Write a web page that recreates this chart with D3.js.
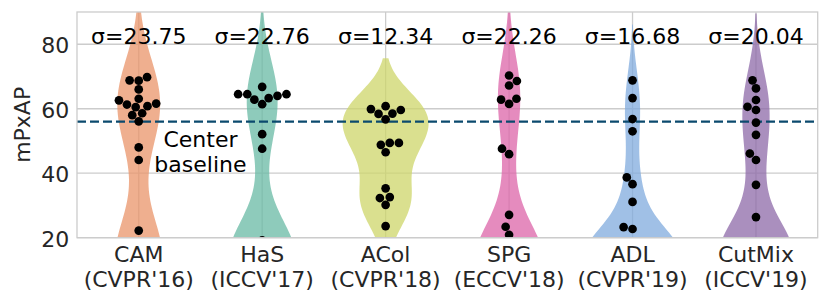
<!DOCTYPE html>
<html><head><meta charset="utf-8">
<script src="https://cdn.jsdelivr.net/npm/d3@7"></script>
<style>
body{margin:0;background:#fff}
svg{display:block}
text{font-family:"DejaVu Sans",sans-serif}
</style>
</head><body>
<svg id="c" width="830" height="304"></svg>
<script>
// ---------- data ----------
const methods = ["CAM", "HaS", "ACol", "SPG", "ADL", "CutMix"];
const venues = ["(CVPR'16)", "(ICCV'17)", "(CVPR'18)", "(ECCV'18)", "(CVPR'19)", "(ICCV'19)"];
const sigmaLabels = ["σ=23.75", "σ=22.76", "σ=12.34", "σ=22.26", "σ=16.68", "σ=20.04"];
const yTicks = [20, 40, 60, 80];
const centerBaseline = 56;

// mPxAP per hyperparameter trial (values below 20 fall outside the visible axis range)
const camScores = [68.8, 68.7, 69.8, 66.0, 62.6, 60.8, 60.5, 63.1, 61.3, 61.6, 58.0, 58.6, 56.1, 48.0, 44.1, 22.2,
  9.5, 10.5, 11, 11.5, 12, 12.5, 13, 13, 13.5, 14, 14.5, 15, 15.5, 16.5];
const hasScores = [64.5, 64.5, 62.8, 66.8, 61.4, 63.3, 64.0, 64.5, 52.1, 47.6,
  9.8, 10.3, 10.8, 11.3, 11.8, 12.1, 12.3, 12.5, 12.8, 13.1, 13.3, 13.5, 13.8, 14.3, 14.8, 15.3, 15.8, 16.3, 17.3, 19.2];
const acolScores = [59.9, 58.4, 56.7, 58.5, 59.6, 60.8, 48.8, 46.5, 49.4, 49.4, 35.3, 32.3, 32.6, 30.2, 23.6];
const spgScores = [68.6, 67.2, 70.3, 62.8, 61.5, 63.1, 47.6, 45.9, 27.1, 23.4, 20.9,
  7, 7.5, 8, 8.5, 9, 9.5, 10, 10, 10.5, 10.5, 11, 11, 11.5, 12, 12.5, 13, 13.5, 14, 15];
const adlScores = [68.8, 63.3, 56.8, 53.0, 38.7, 36.6, 31.1, 23.3, 22.7,
  8, 9, 9.5, 10, 10.5, 11, 11.5, 12, 12, 12.5, 13, 13.5, 14, 14, 14.5, 15, 15.5, 16, 16.5, 17, 18];
const cutmixScores = [68.8, 66.3, 62.7, 60.6, 59.6, 55.7, 51.9, 46.1, 44.1, 36.4, 26.4,
  10, 10.5, 11, 11.5, 12, 12.5, 13, 13.5, 14, 14, 14.5, 15, 15, 15.5, 16, 16.5, 17, 17.5, 18];
const scores = [camScores, hasScores, acolScores, spgScores, adlScores, cutmixScores];
const colors = ["#ea946a", "#68baa4", "#ced66a", "#dc64a8", "#80abde", "#8e6aa8"];

// ---------- layout ----------
const svg = d3.select("#c");
const plot = {left: 77, right: 817.7, top: 12, bottom: 237.7};
const x = d3.scaleBand().domain(methods).range([plot.left, plot.right]).padding(0);
const y = d3.scaleLinear().domain([20, 90]).range([plot.bottom, plot.top]);
const cx = m => x(m) + x.bandwidth() / 2;
const gridColor = "#cccccc", textColor = "#262626";

svg.append("defs").append("clipPath").attr("id", "clip")
  .append("rect").attr("x", plot.left).attr("y", plot.top)
  .attr("width", plot.right - plot.left).attr("height", plot.bottom - plot.top);

// grid
const grid = svg.append("g");
grid.selectAll("line.h").data(yTicks).join("line")
  .attr("x1", plot.left).attr("x2", plot.right)
  .attr("y1", d => y(d)).attr("y2", d => y(d))
  .attr("stroke", gridColor).attr("stroke-width", 1.3);
grid.selectAll("line.v").data(methods).join("line")
  .attr("x1", d => cx(d)).attr("x2", d => cx(d))
  .attr("y1", plot.top).attr("y2", plot.bottom)
  .attr("stroke", gridColor).attr("stroke-width", 1.3);

// ---------- violins (gaussian KDE, Scott bandwidth, cut = 2, area scaling) ----------
function kde(values) {
  const n = values.length;
  const bw = d3.deviation(values) * Math.pow(n, -1 / 5);
  const lo = d3.min(values) - 2 * bw, hi = d3.max(values) + 2 * bw;
  const norm = 1 / (bw * Math.sqrt(2 * Math.PI));
  return d3.range(100).map(i => {
    const v = lo + (hi - lo) * i / 99;
    return [v, norm * d3.mean(values, s => Math.exp(-0.5 * ((v - s) / bw) ** 2))];
  });
}
const dens = scores.map(kde);
const maxD = d3.max(dens, d => d3.max(d, p => p[1]));
const w = d3.scaleLinear().domain([0, maxD]).range([0, x.bandwidth() * 0.4]);

const gv = svg.append("g").attr("clip-path", "url(#clip)");
methods.forEach((m, i) => {
  const c = cx(m);
  gv.append("path").datum(dens[i])
    .attr("d", d3.area().x0(p => c - w(p[1])).x1(p => c + w(p[1])).y(p => y(p[0])))
    .attr("fill", colors[i]).attr("fill-opacity", 0.75);
});

// center baseline
svg.append("line")
  .attr("x1", plot.left).attr("x2", plot.right)
  .attr("y1", y(centerBaseline)).attr("y2", y(centerBaseline))
  .attr("stroke", "#0b4a6e").attr("stroke-width", 2.2).attr("stroke-dasharray", "9,4");

// ---------- swarm (beeswarm placement like seaborn) ----------
const dotR = 4.35, dia = 8.7;
function swarm(values, center) {
  const pts = values.slice().sort((a, b) => a - b).map(v => ({v, x: center, y: y(v)}));
  const placed = [];
  pts.forEach((p, k) => {
    if (k === 0) { placed.push(p); return; }
    const nb = [];
    for (let j = placed.length - 1; j >= 0; j--) {
      if (Math.abs(placed[j].y - p.y) < dia) nb.unshift(placed[j]); else break;
    }
    const cand = [center];
    let leftFirst = true;
    nb.forEach(q => {
      const dy = p.y - q.y;
      const dx = Math.sqrt(Math.max(dia * dia - dy * dy, 0)) * 1.05;
      if (leftFirst) cand.push(q.x - dx, q.x + dx); else cand.push(q.x + dx, q.x - dx);
      leftFirst = !leftFirst;
    });
    const order = cand.map((cxv, idx) => ({cxv, idx})).sort((a, b) => (Math.abs(a.cxv - center) - Math.abs(b.cxv - center)) || (a.idx - b.idx));
    let chosen = center;
    for (const o of order) {
      if (nb.every(q => (q.x - o.cxv) ** 2 + (q.y - p.y) ** 2 >= dia * dia)) { chosen = o.cxv; break; }
    }
    const lim = x.bandwidth() * 0.4;
    p.x = Math.max(center - lim, Math.min(center + lim, chosen));
    placed.push(p);
  });
  return placed;
}
const gp = svg.append("g").attr("clip-path", "url(#clip)");
methods.forEach((m, i) => {
  gp.selectAll(null).data(swarm(scores[i], cx(m))).join("circle")
    .attr("cx", d => d.x).attr("cy", d => d.y).attr("r", dotR).attr("fill", "#000");
});

// frame
svg.append("rect").attr("x", plot.left).attr("y", plot.top)
  .attr("width", plot.right - plot.left).attr("height", plot.bottom - plot.top)
  .attr("fill", "none").attr("stroke", gridColor).attr("stroke-width", 1.3);

// ---------- text ----------
const fs = 22;
svg.append("g").selectAll("text").data(yTicks).join("text")
  .attr("x", 69.3).attr("y", d => y(d)).attr("dy", "0.41em")
  .attr("text-anchor", "end").attr("font-size", fs).attr("fill", textColor)
  .text(d => d);

svg.append("text").attr("transform", `translate(30,${(plot.top + plot.bottom) / 2}) rotate(-90)`)
  .attr("text-anchor", "middle").attr("font-size", fs).attr("fill", textColor).text("mPxAP");

const xl = svg.append("g");
methods.forEach((m, i) => {
  const t = xl.append("text").attr("text-anchor", "middle").attr("font-size", fs).attr("fill", textColor);
  t.append("tspan").attr("x", cx(m)).attr("y", 262).text(m);
  t.append("tspan").attr("x", cx(m)).attr("y", 286.7).text(venues[i]);
});

svg.append("g").selectAll("text").data(methods).join("text")
  .attr("x", d => cx(d)).attr("y", y(80))
  .attr("text-anchor", "middle").attr("font-size", fs).attr("fill", "#000")
  .text((d, i) => sigmaLabels[i]);

const cb = svg.append("text").attr("text-anchor", "middle").attr("font-size", fs).attr("fill", "#000");
cb.append("tspan").attr("x", plot.left + x.bandwidth()).attr("y", y(48.2)).text("Center");
cb.append("tspan").attr("x", plot.left + x.bandwidth()).attr("dy", "1.165em").text("baseline");
</script>
</body></html>
